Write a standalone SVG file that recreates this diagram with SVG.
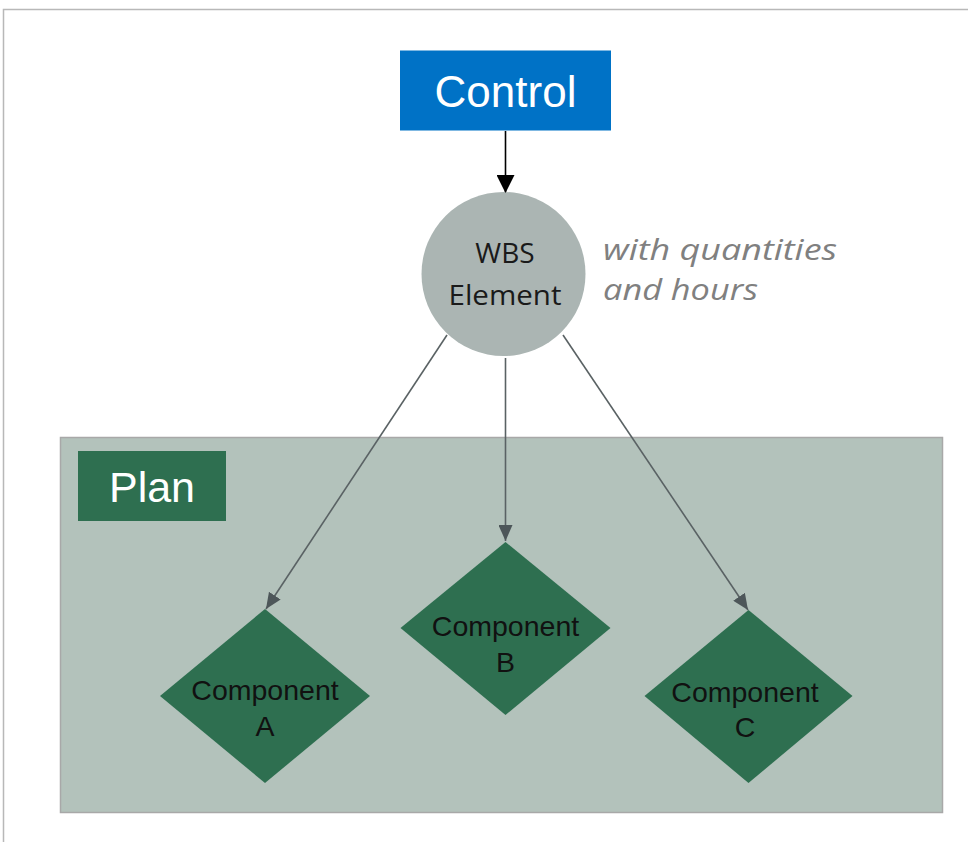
<svg xmlns="http://www.w3.org/2000/svg" width="968" height="842" viewBox="0 0 968 842">
<defs>
<style>
.lbl{font-family:"Liberation Sans",Arial,sans-serif;}
.conn{stroke:#5a6264;stroke-width:1.6;fill:none;}
.dia{fill:#2e6f50;}
.dtxt{font-family:"Liberation Sans",Arial,sans-serif;font-size:28.5px;fill:#111;text-anchor:middle;}
.wtxt{font-family:"Open Sans","Noto Sans",sans-serif;font-size:28px;fill:#1a1a1a;text-anchor:middle;}
.note{font-family:"Open Sans","Noto Sans",sans-serif;font-style:italic;font-size:30px;fill:#808080;}
</style>
<marker id="ah" markerWidth="16" markerHeight="14" refX="16" refY="7" orient="auto" markerUnits="userSpaceOnUse" viewBox="0 0 16 14">
<path d="M0,0 L16,7 L0,14 Z" fill="#4d5659"/>
</marker>
<marker id="ahb" markerWidth="18" markerHeight="18" refX="17" refY="9" orient="auto" markerUnits="userSpaceOnUse" viewBox="0 0 18 18">
<path d="M0,0 L18,9 L0,18 Z" fill="#000"/>
</marker>
</defs>
<rect width="968" height="842" fill="#fff"/>
<path d="M3.5,842 L3.5,9.5 L968,9.5" fill="none" stroke="#b8b8b8" stroke-width="1.5"/>
<g id="plan">
<rect x="60.5" y="437.5" width="882" height="375" fill="#b3c2bb" stroke="#a8a8a8" stroke-width="1.5"/>
<rect x="78" y="451" width="148" height="70" fill="#2e6f50"/>
<text class="lbl" x="152" y="502" font-size="43" fill="#fff" text-anchor="middle">Plan</text>
</g>
<g id="control">
<rect x="400" y="50.5" width="211" height="80" fill="#0072c6"/>
<text class="lbl" x="505.5" y="107" font-size="44" fill="#fff" text-anchor="middle">Control</text>
</g>
<g id="wbs">
<circle cx="503.5" cy="274" r="82" fill="#abb5b3"/>
<text class="wtxt" x="505" y="263">WBS</text>
<text class="wtxt" x="505" y="305" textLength="113" lengthAdjust="spacingAndGlyphs">Element</text>
</g>
<g id="note">
<text class="note" x="603" y="260" textLength="234" lengthAdjust="spacingAndGlyphs">with quantities</text>
<text class="note" x="603" y="300" textLength="155" lengthAdjust="spacingAndGlyphs">and hours</text>
</g>
<g id="compA">
<polygon class="dia" points="265,609 370,696 265,783 160,696"/>
<text class="dtxt" x="265" y="700">Component</text>
<text class="dtxt" x="265" y="736">A</text>
</g>
<g id="compB">
<polygon class="dia" points="505.5,542 610.5,628 505.5,715 400.5,628"/>
<text class="dtxt" x="505.5" y="636">Component</text>
<text class="dtxt" x="505.5" y="672">B</text>
</g>
<g id="compC">
<polygon class="dia" points="748.5,610 852.5,696 748.5,783 644.5,696"/>
<text class="dtxt" x="745" y="702">Component</text>
<text class="dtxt" x="745" y="737">C</text>
</g>
<g id="connectors">
<line x1="505.5" y1="131" x2="505.5" y2="192" stroke="#000" stroke-width="1.6" marker-end="url(#ahb)"/>
<line class="conn" x1="447" y1="335" x2="266" y2="609" marker-end="url(#ah)"/>
<line class="conn" x1="505.5" y1="358" x2="505.5" y2="541" marker-end="url(#ah)"/>
<line class="conn" x1="563" y1="335" x2="748" y2="610" marker-end="url(#ah)"/>
</g>
</svg>
